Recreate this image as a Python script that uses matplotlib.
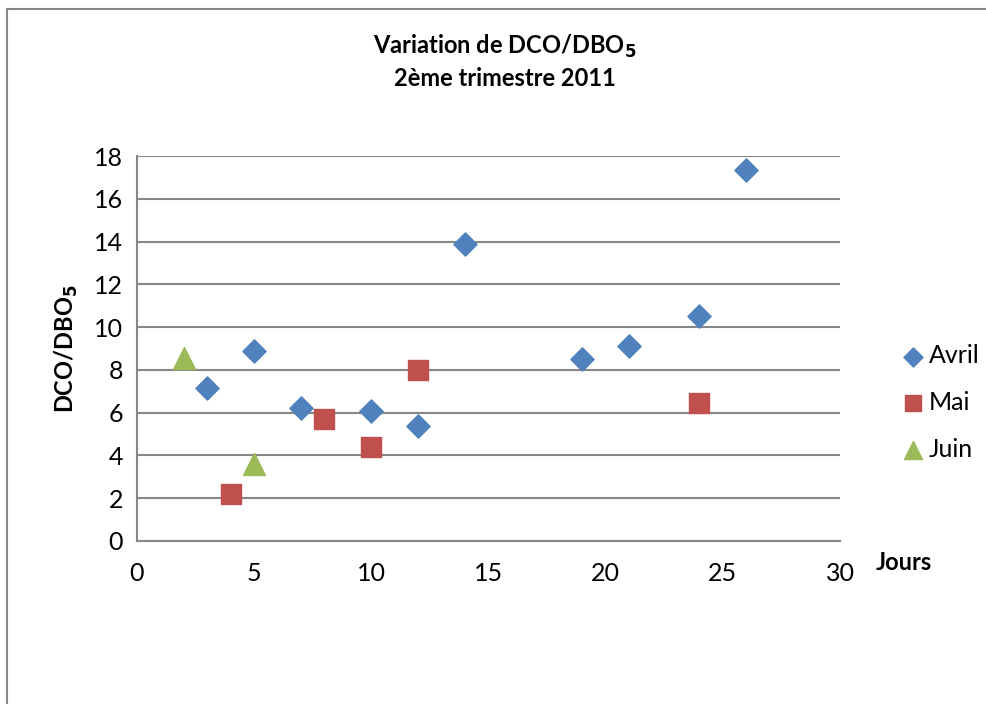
import matplotlib.pyplot as plt
from matplotlib.lines import Line2D

plt.rcParams['font.family'] = ['Lato', 'DejaVu Sans']

# ---- data ----
avril_x = [3, 5, 7, 10, 12, 14, 19, 21, 24, 26]
avril_y = [7.15, 8.9, 6.2, 6.1, 5.4, 13.9, 8.5, 9.1, 10.5, 17.35]

mai_x = [4, 8, 10, 12, 24]
mai_y = [2.2, 5.7, 4.4, 8.0, 6.45]

juin_x = [2, 5]
juin_y = [8.55, 3.6]

x_ticks = [0, 5, 10, 15, 20, 25, 30]
y_ticks = [0, 2, 4, 6, 8, 10, 12, 14, 16, 18]

BLUE = "#4F81BD"
RED = "#C0504D"
GREEN = "#9BBB59"
GRID = "#878787"

fig = plt.figure(figsize=(9.86, 7.04), dpi=100)
ax = fig.add_axes([137 / 986, 1 - 541 / 704, 703 / 986, 385 / 704])

ax.scatter(avril_x, avril_y, marker="D", s=140, color=BLUE, label="Avril", zorder=3)
ax.scatter(mai_x, mai_y, marker="s", s=210, color=RED, label="Mai", zorder=3)
ax.scatter(juin_x, juin_y, marker="^", s=250, color=GREEN, label="Juin", zorder=3)

ax.set_xlim(0, 30)
ax.set_ylim(0, 18)
ax.set_xticks(x_ticks)
ax.set_yticks(y_ticks)
ax.tick_params(length=0, labelsize=18, pad=15)
ax.tick_params(axis="y", pad=10)

ax.yaxis.grid(True, color=GRID, linewidth=1.5)
ax.set_axisbelow(True)
for s in ["top", "right"]:
    ax.spines[s].set_visible(False)
for s in ["left", "bottom"]:
    ax.spines[s].set_color(GRID)
    ax.spines[s].set_linewidth(1.5)

ax.set_ylabel("DCO/DBO$_\\mathbf{5}$", fontsize=17, fontweight="bold", labelpad=10)
fig.text(904 / 986, 1 - 562 / 704, "Jours", fontsize=17, fontweight="bold",
         ha="center", va="center")

fig.text(505 / 986, 1 - 46 / 704, "Variation de DCO/DBO$_\\mathbf{5}$", fontsize=17,
         fontweight="bold", ha="center", va="center")
fig.text(505 / 986, 1 - 78 / 704, "2ème trimestre 2011", fontsize=17,
         fontweight="bold", ha="center", va="center")

ax.legend(loc="center left", bbox_to_anchor=(1.05, 0.36), frameon=False,
          fontsize=18, handletextpad=0.05, labelspacing=0.95, handlelength=1.2,
          markerscale=0.82)

# chart-area border (only top and left visible in the crop)
fig.add_artist(Line2D([7 / 986, 7 / 986], [0, 1 - 9 / 704], color=GRID, lw=1.5))
fig.add_artist(Line2D([7 / 986, 1], [1 - 9 / 704, 1 - 9 / 704], color=GRID, lw=1.5))

fig.savefig("out.png", dpi=100)
